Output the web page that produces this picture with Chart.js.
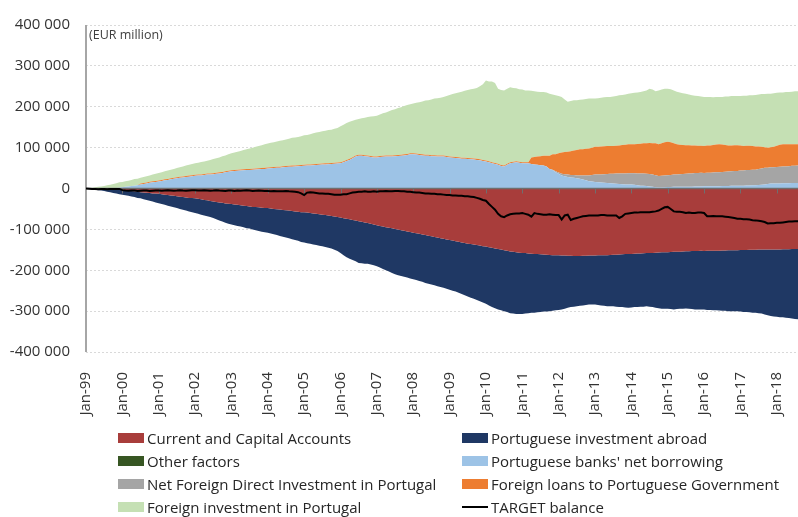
<!DOCTYPE html>
<html><head><meta charset="utf-8">
<script src="https://cdn.jsdelivr.net/npm/chart.js@4.4.1/dist/chart.umd.min.js"></script>
<style>
html,body{margin:0;padding:0;background:#fff;}
#wrap{position:relative;width:798px;height:517px;overflow:hidden;background:#fff;}
#c{position:absolute;left:0;top:0;}
#unit{position:absolute;left:89px;top:26px;font:12.5px 'Open Sans',sans-serif;color:#404040;white-space:nowrap;}
.lg{position:absolute;height:20px;line-height:20px;font:15px 'Open Sans',sans-serif;color:#262626;white-space:nowrap;}
.lg .sw{position:absolute;left:0;top:5px;width:26px;height:10px;}
.lg .ln{position:absolute;left:0;top:9px;width:26px;height:2px;background:#000;}
.lg .t{position:absolute;left:29px;top:0;}
</style></head>
<body><div id="wrap"><canvas id="c" width="798" height="517"></canvas><div id="unit">(EUR million)</div></div>
<script>
// ---- categories (monthly, Jan-99 .. Aug-18) ----
const years = ['99','00','01','02','03','04','05','06','07','08','09','10','11','12','13','14','15','16','17','18'];
const months = ['Jan','Feb','Mar','Apr','May','Jun','Jul','Aug','Sep','Oct','Nov','Dec'];
const labels = [];
years.forEach(y => months.forEach(m => labels.push(m + '-' + y)));
labels.splice(236);

// ---- series (EUR million) ----
const caa = [ // Current and Capital Accounts
0,0,0,0,0,0,0,0,0,-500,-1000,-2000,
-3000,-4000,-5000,-6000,-7000,-8000,-9000,-10000,-10500,-11000,-12000,-12500,
-13000,-14000,-15000,-16000,-17000,-18000,-19000,-20000,-21000,-22000,-23000,-23500,
-24000,-25000,-26500,-28000,-29000,-30500,-31500,-33000,-34000,-35000,-36500,-37500,
-38000,-39000,-40000,-41000,-42000,-43000,-44000,-45000,-45500,-46000,-47000,-47500,
-48000,-49000,-50000,-51000,-51500,-52500,-53500,-54000,-55000,-56000,-57000,-58000,
-58000,-59000,-60000,-61000,-62000,-63000,-64000,-65000,-66000,-67000,-68500,-70000,
-71000,-72500,-74000,-75500,-77000,-78500,-80000,-81500,-83000,-84500,-86000,-88000,
-90000,-91500,-93000,-94500,-96000,-97500,-99000,-100500,-102000,-103500,-105000,-106500,
-108000,-109500,-111000,-112500,-114000,-115500,-117000,-118500,-120000,-121500,-123000,-124500,
-126000,-127500,-129000,-130500,-132000,-133500,-135000,-136000,-137000,-138000,-139500,-141000,
-142000,-143500,-145000,-146500,-148000,-149500,-151000,-152500,-154000,-155000,-156000,-157000,
-157500,-158000,-159000,-159500,-160000,-160500,-161000,-161500,-162000,-162500,-163000,-163500,
-163500,-164000,-164000,-164500,-164500,-165000,-165000,-165000,-164500,-164500,-164000,-164000,
-164000,-163500,-163500,-163000,-163000,-162500,-162000,-162000,-161500,-161000,-160500,-160000,
-160000,-159500,-159000,-159000,-158500,-158000,-157600,-157500,-157000,-156500,-156000,-156000,
-156000,-155500,-155000,-155000,-154500,-154000,-153600,-153500,-153000,-153000,-153000,-152500,
-153000,-152500,-152500,-152000,-152000,-152000,-151500,-151500,-151000,-151000,-151000,-151000,
-150500,-150500,-150500,-150000,-150000,-150000,-149500,-149500,-149500,-149000,-149000,-149000,
-149000,-149000,-148500,-148500,-148500,-148000,-148000,-148000];

const pia = [ // Portuguese investment abroad
0,-1000,-2000,-3000,-4000,-5000,-6000,-8000,-9000,-10500,-11000,-12000,
-12000,-12500,-13000,-13500,-14000,-15000,-15000,-16000,-17500,-19000,-20000,-21500,
-23000,-24000,-25000,-26000,-27000,-28000,-29000,-30000,-31000,-32000,-33000,-34500,
-36000,-37000,-37500,-38000,-39000,-39500,-40500,-42000,-44000,-46000,-47500,-48500,
-50000,-51000,-52000,-52000,-53000,-54000,-54000,-55000,-56500,-58000,-59000,-59500,
-60000,-61000,-62000,-63000,-64500,-65500,-66500,-68000,-69000,-70000,-71000,-73000,
-74000,-75000,-75000,-76000,-76000,-77000,-77000,-78000,-79000,-80000,-81500,-83000,
-87000,-90500,-94000,-96500,-98000,-99500,-102000,-101500,-101000,-99500,-100000,-100000,
-100000,-101500,-104000,-105500,-107000,-109500,-111000,-111500,-112000,-112500,-113000,-113500,
-114000,-114500,-115000,-115500,-117000,-117500,-118000,-118500,-119000,-119500,-120000,-120500,
-122000,-122500,-123000,-124500,-126000,-127500,-129000,-131000,-133000,-135000,-136500,-138000,
-140000,-142500,-145000,-146500,-148000,-148500,-149000,-149500,-151000,-151000,-151000,-150000,
-149500,-148000,-146000,-144500,-144000,-142500,-141000,-139500,-139000,-137500,-136000,-134500,
-133500,-132000,-130000,-127500,-125500,-124000,-123000,-122000,-121500,-120500,-120000,-120000,
-120000,-121500,-122500,-124000,-125000,-125500,-126000,-127000,-128500,-129000,-130500,-132000,
-131000,-130500,-131000,-130000,-130500,-130000,-131400,-132500,-135000,-136500,-138000,-138000,
-138000,-139500,-141000,-140000,-139500,-140000,-140000,-140500,-142000,-143000,-143000,-143500,
-143000,-144500,-144500,-146000,-146000,-146400,-147500,-147500,-149000,-149000,-149000,-149000,
-150500,-151500,-151500,-153000,-154000,-154000,-155500,-156500,-158500,-161000,-163000,-164000,
-165000,-166000,-166500,-167500,-168500,-170000,-171000,-172000];

const other = [ // Other factors
0,0,0,0,0,0,0,0,0,0,0,0, 0,0,0,0,0,0,0,0,0,0,0,0, 0,0,0,0,0,0,0,0,0,0,0,0,
0,0,0,0,0,0,0,0,0,0,0,0, 0,0,0,0,0,0,0,0,0,0,0,0, 0,0,0,0,0,0,0,0,0,0,0,0,
0,0,0,0,0,0,0,0,0,0,0,0, 0,0,0,0,0,0,0,0,0,0,0,0, 0,0,0,0,0,0,0,0,0,0,0,0,
0,0,0,0,0,0,0,0,0,0,0,0, 0,0,0,0,0,0,0,0,0,0,0,0, 0,0,0,0,0,0,0,0,0,0,0,0,
0,0,1000,1500,0,0,0,0,0,0,0,0,
1500,0,0,0,0,0,0,0,0,0,0,0,
0,1000,0,0,0,0,0,0,0,0,0,0,
0,0,0,0,0,0,0,0,0,0,0,0, 0,0,0,0,0,0,0,0,0,0,0,0, 0,0,0,0,0,0,0,0,0,0,0,0,
0,0,0,0,0,0,0,0,0,0,0,0, 0,0,0,0,0,0,0,0];

const banks = [ // Portuguese banks' net borrowing
0,0,0,0,0,0,0,0,500,1000,1500,2000,
3000,4000,5000,6000,7000,8000,10000,11000,12000,14000,15000,16000,
17000,18500,20000,21000,22500,24000,25000,26000,27000,28000,29000,30000,
31000,31500,32000,33000,34000,34000,35000,36000,37000,38000,40000,41000,
42000,43000,43500,44000,44500,45000,45500,46000,46500,47000,47500,48000,
49000,49500,50000,50500,51000,52000,52500,53000,53500,54000,54500,55000,
55500,56000,56500,57000,57500,58000,58500,59000,59500,60000,60500,61000,
62000,64000,67000,70000,74000,78000,80000,80000,79000,78000,77000,76000,
76000,77000,77500,78000,78000,78500,79000,79500,80000,81000,82000,84000,
84000,83000,82000,81000,80000,80000,79000,79000,78000,78000,78000,77000,
76000,75000,74500,74000,73000,72500,72000,71500,71000,70000,69000,67500,
66000,64000,62000,60000,58000,55000,54000,58000,62000,63000,64000,63000,
62000,62000,61000,58500,59000,58000,57000,56000,54000,48000,45000,40000,
34500,32000,30000,28000,27000,26000,25000,24000,22000,20000,18000,17000,
16000,14000,14500,14000,13500,13000,12000,11500,11000,10500,10000,10000,
9500,9000,8000,7000,6500,6000,5000,4000,3000,2400,2500,3000,
3500,3500,4000,4000,4000,4000,4000,4500,4500,5000,5000,5000,
5500,5500,5500,5500,5600,5600,6000,6000,6000,6500,6500,6500,
7000,7000,7500,7500,8000,8000,8500,9000,10000,11000,12000,12000,
12500,12500,13000,13000,13000,13500,13500,13600];

const fdi = [ // Net Foreign Direct Investment in Portugal
0,0,0,0,0,0,0,0,0,0,0,0, 0,0,0,0,0,0,0,0,0,0,0,0, 0,0,0,0,0,0,0,0,0,0,0,0,
0,0,0,0,0,0,0,0,0,0,0,0, 0,0,0,0,0,0,0,0,0,0,0,0, 0,0,0,0,0,0,0,0,0,0,0,0,
0,0,0,0,0,0,0,0,0,0,0,0, 0,0,0,0,0,0,0,0,0,0,0,0, 0,0,0,0,0,0,0,0,0,0,0,0,
0,0,0,0,0,0,0,0,0,0,0,0, 0,0,0,0,0,0,0,0,0,0,0,0, 0,0,0,0,0,0,0,0,0,0,0,0,
0,0,0,0,0,0,0,0,0,0,1000,2000,
3000,4000,5000,6000,6000,7000,7000,8000,10000,12000,14000,16000,
18000,19000,20000,21000,22000,23000,24000,25000,25500,26000,27000,27500,
28000,28500,29000,29500,30000,30000,30500,30000,29500,28000,28500,29000,
29000,29500,30000,30000,31000,31500,32000,32000,32500,33000,33000,33500,
32500,33000,33000,33500,34000,34400,34500,35000,35500,36000,36500,36500,
37000,37000,37500,38000,37600,38000,39000,40000,41000,40000,40000,40000,
40000,40500,41000,41000,41500,42000,42000,42400];

const loans = [ // Foreign loans to Portuguese Government
0,0,0,0,0,0,0,0,0,0,0,0,
0,0,0,0,0,0,2500,2500,2500,2500,2500,2500,
2500,2500,2500,2500,2500,2500,2500,2500,2500,2500,2500,2500,
2500,2500,2500,2500,2500,2500,2500,2500,2500,2500,2500,2500,
2500,2500,2500,2500,2500,2500,2500,2500,2500,2500,2500,2500,
2500,2500,2500,2500,2500,2500,2500,2500,2500,2500,2500,2500,
2500,2500,2500,2500,2500,2500,2500,2500,2500,2500,2500,2500,
2500,2500,2500,2500,2500,2500,2500,2500,2500,2500,2500,2500,
2500,2500,2500,2500,2500,2500,2500,2500,2500,2500,2500,2500,
2500,2500,2500,2500,2500,2500,2500,2500,2500,2500,2500,2500,
2500,2500,2500,2500,2500,2500,2500,2500,2500,2500,2500,2500,
2500,2500,2500,2500,2500,2500,2500,2500,2500,2500,2500,2500,
2500,2500,2500,16000,18000,20000,22000,24000,26000,32000,38000,42000,
47000,52000,54000,56000,58000,60000,62000,64000,64000,65000,66000,67000,
68000,68000,68500,68500,68500,68000,68000,68000,69000,70000,70000,70500,
70500,71000,72000,73000,74000,75000,76000,77000,78000,78000,80000,81000,
82000,80000,77000,74000,72000,71000,70000,69500,68500,67000,66500,66000,
66000,66500,67000,67500,68000,68000,67000,65500,64000,63000,63000,62600,
61000,60000,59500,59000,58400,57000,55000,53000,50000,49000,49000,50000,
52000,54000,54000,54000,54000,53000,52500,52000];

const fip = [ // Foreign investment in Portugal
0,1000,2000,3000,4000,5000,6000,8000,8500,10000,11500,13000,
13000,14000,14000,15000,16000,16000,13500,14500,15500,15500,16500,17500,
18500,19000,19500,20500,21000,21500,22500,23500,24500,25500,26500,27500,
28500,29000,30500,30500,31500,33500,34500,35500,36500,38500,38500,40500,
41500,42500,44000,45500,47000,48500,50000,51500,53000,54500,56000,57500,
58500,60000,60500,62000,63500,63500,65000,66500,68000,68500,69000,70500,
72000,72500,74000,75500,77000,77500,79000,79500,81000,81500,83000,84500,
87500,89500,90500,90500,89500,87500,87500,89500,91500,94500,96500,98500,
99500,101500,104000,105500,108500,111000,112500,115000,116500,118500,119500,119500,
121500,124500,126500,129500,132500,133500,136500,138500,140500,141500,143500,146500,
150500,153500,156000,158500,161500,164000,166500,169000,170500,173500,178500,185000,
195500,195500,197500,195500,183500,183500,183500,183500,183500,180500,178500,177500,
177500,175500,175500,163000,161000,159000,157000,156000,155000,152000,146000,144000,
140000,136000,129000,122000,123000,123000,122000,121000,122000,122000,122000,120000,
118000,119000,119000,119500,120000,120000,121000,121500,122500,122500,123000,124000,
125000,125500,126000,126500,127500,129000,132500,131000,127500,131600,131000,131000,
129500,130000,129000,129000,128000,126500,126000,124000,122500,122000,121500,120500,
120000,119000,118500,116500,116400,116000,116500,118500,119500,120500,120000,120400,
121000,123000,122500,123500,124000,126000,127500,129000,130000,132000,131000,131000,
129500,128000,127000,128000,127500,128500,130000,130000];

const target = [ // TARGET balance
0,-500,-1000,-1000,-2000,-1000,-1500,-2000,-1000,-1500,-1000,-1000,
-4000,-5000,-5500,-5000,-5000,-6000,-5500,-5000,-5000,-6000,-5500,-5000,
-5000,-5500,-5000,-4500,-5000,-5500,-5000,-4000,-5000,-5500,-5000,-4500,
-4000,-5000,-5000,-4500,-5000,-5500,-5000,-4000,-5000,-5500,-6000,-5000,
-5000,-6000,-5000,-5500,-5000,-4500,-5000,-6000,-5500,-5000,-5500,-6000,
-6000,-6500,-6000,-7000,-6500,-7000,-6000,-7000,-7500,-8000,-9000,-12000,
-16000,-10000,-9000,-10000,-11000,-12000,-12000,-13000,-13000,-14000,-15000,-15000,
-15000,-14000,-14000,-12000,-10000,-9000,-8000,-8000,-7000,-8000,-8000,-7000,
-8000,-7000,-7000,-6000,-7000,-7000,-6000,-6000,-7000,-7000,-8000,-8000,
-9000,-10000,-10000,-11000,-12000,-12000,-13000,-13000,-14000,-14000,-15000,-16000,
-16000,-17000,-17000,-18000,-18000,-19000,-19000,-20000,-21000,-23000,-25000,-28000,
-30000,-38000,-45000,-52000,-62000,-68000,-70000,-66000,-63000,-62000,-61000,-61000,
-60000,-62000,-64000,-69000,-60000,-62000,-63000,-64000,-64000,-63000,-64000,-65000,
-65000,-76000,-66000,-64000,-77000,-74000,-72000,-70000,-68000,-67000,-66000,-66000,
-66000,-66000,-65000,-65000,-66000,-66000,-66000,-66000,-72000,-68000,-62000,-61000,
-60000,-59000,-59000,-58000,-58000,-58000,-58000,-57000,-56000,-54000,-50000,-46000,
-45000,-50000,-56000,-57000,-57000,-58000,-60000,-59000,-60000,-60000,-59000,-59000,
-60000,-68000,-68000,-67000,-68000,-68000,-68000,-69000,-70000,-71000,-72000,-74000,
-74000,-75000,-75000,-76000,-77600,-78000,-79000,-80000,-82000,-85600,-85000,-85000,
-84000,-84000,-83000,-82000,-81000,-81000,-80000,-80000];

const yTicks = [-400000,-300000,-200000,-100000,0,100000,200000,300000,400000];

// ---- series definitions ----
const names = {
  caa:'Current and Capital Accounts', pia:'Portuguese investment abroad',
  other:'Other factors', banks:"Portuguese banks' net borrowing",
  fdi:'Net Foreign Direct Investment in Portugal', loans:'Foreign loans to Portuguese Government',
  fip:'Foreign investment in Portugal', target:'TARGET balance'
};
const colors = {
  caa:'#a83d3b', pia:'#1f3864', other:'#375623', banks:'#9dc3e6',
  fdi:'#a5a5a5', loans:'#ed7d31', fip:'#c5e0b4', target:'#000000'
};

function area(key, data, stack, fill){
  return {label:names[key], data:data, stack:stack, fill:fill, backgroundColor:colors[key],
    borderColor:'rgba(0,0,0,0)', borderWidth:0, pointRadius:0, tension:0, order:1};
}
const datasets = [
  {label:names.target, data:target, stack:'t', fill:false, borderColor:colors.target,
   borderWidth:2, pointRadius:0, tension:0, order:0},
  area('caa', caa, 'neg', 'origin'),
  area('pia', pia, 'neg', '-1'),
  area('other', other, 'pos', 'origin'),
  area('banks', banks, 'pos', '-1'),
  area('fdi', fdi, 'pos', '-1'),
  area('loans', loans, 'pos', '-1'),
  area('fip', fip, 'pos', '-1')
];

function fmt(v){
  const s = Math.abs(v).toString().replace(/\B(?=(\d{3})+(?!\d))/g, ' ');
  return (v < 0 ? '-' : '') + s;
}

const axesPlugin = {
  id:'axesLines',
  beforeDatasetDraw(chart, args){
    if (args.index !== 0) return;
    const ctx = chart.ctx, a = chart.chartArea, x = chart.scales.x, y = chart.scales.y;
    const y0 = y.getPixelForValue(0);
    ctx.save();
    ctx.strokeStyle = '#6f6f6f'; ctx.lineWidth = 1.5;
    ctx.beginPath(); ctx.moveTo(a.left, y0); ctx.lineTo(a.right, y0); ctx.stroke();
    ctx.lineWidth = 1; ctx.beginPath();
    labels.forEach((l, i) => {
      if (l.startsWith('Jan')) { const px = Math.round(x.getPixelForValue(i)) + 0.5; ctx.moveTo(px, y0); ctx.lineTo(px, y0 + 5); }
    });
    ctx.stroke();
    ctx.strokeStyle = '#a6a6a6'; ctx.lineWidth = 2;
    ctx.beginPath(); ctx.moveTo(a.left, a.top); ctx.lineTo(a.left, a.bottom); ctx.stroke();
    ctx.restore();
  }
};

Chart.defaults.font.family = "'Open Sans', sans-serif";
Chart.defaults.font.size = 15;
Chart.defaults.color = '#333333';

new Chart(document.getElementById('c'), {
  type:'line',
  data:{labels:labels, datasets:datasets},
  options:{
    responsive:false, animation:false, maintainAspectRatio:false,
    layout:{padding:{top:20, right:0, left:0, bottom:0}},
    plugins:{legend:{display:false}, tooltip:{enabled:false}, title:{display:false}},
    scales:{
      x:{type:'category', offset:false, grid:{display:false}, border:{display:false},
        ticks:{autoSkip:false, maxRotation:90, minRotation:90, padding:12, color:'#333333', font:{size:15},
          callback:function(v){ const l = this.getLabelForValue(v); return l.startsWith('Jan') ? l : ''; }},
        afterFit:function(s){ s.height = 165; s.paddingLeft = 0; s.paddingRight = 0; }},
      y:{stacked:true, min:yTicks[0], max:yTicks[yTicks.length-1],
        afterBuildTicks:function(s){ s.ticks = yTicks.map(v => ({value:v})); },
        ticks:{padding:16, color:'#333333', font:{size:15}, callback:v => fmt(v)},
        grid:{color:'#d9d9d9', drawTicks:false, lineWidth:1},
        border:{display:false, dash:[2,2]},
        afterFit:function(s){ s.width = 86; }}
    }
  },
  plugins:[axesPlugin]
});

// ---- legend (HTML, two columns as in the reference) ----
const legendLayout = [
  ['caa',0,0],['pia',1,0],['other',0,1],['banks',1,1],
  ['fdi',0,2],['loans',1,2],['fip',0,3],['target',1,3]
];
const wrap = document.getElementById('wrap');
legendLayout.forEach(([key, col, row]) => {
  const d = document.createElement('div');
  d.className = 'lg';
  d.style.left = (col === 0 ? 118 : 462) + 'px';
  d.style.top = (428 + row * 23) + 'px';
  const sw = document.createElement('div');
  if (key === 'target') { sw.className = 'ln'; }
  else { sw.className = 'sw'; sw.style.background = colors[key]; }
  const t = document.createElement('span');
  t.className = 't'; t.textContent = names[key];
  d.appendChild(sw); d.appendChild(t);
  wrap.appendChild(d);
});
</script>
</body></html>
